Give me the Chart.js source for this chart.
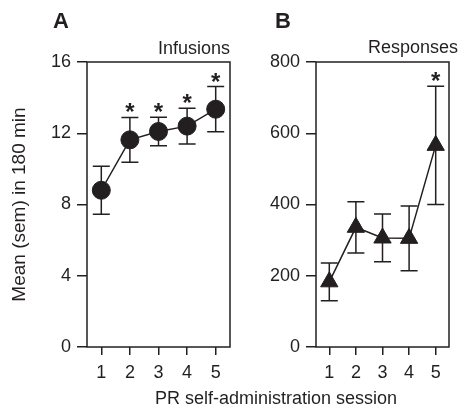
<!DOCTYPE html>
<html>
<head>
<meta charset="utf-8">
<script src="https://cdn.jsdelivr.net/npm/chart.js@4"></script>
<style>
  body { margin: 0; width: 460px; height: 413px; overflow: hidden; background: #fff; position: relative;
         font-family: "Liberation Sans", Arial, sans-serif; color: #231f20; }
  canvas { position: absolute; top: 0; }
  .lbl { position: absolute; white-space: nowrap; line-height: 1; font-size: 18px; }
  .panel { font-weight: bold; font-size: 22px; }
</style>
</head>
<body>
<canvas id="chartA" width="240" height="413" style="left:0"></canvas>
<canvas id="chartB" width="220" height="413" style="left:240px"></canvas>
<div class="lbl panel" style="left:53px;top:10px">A</div>
<div class="lbl panel" style="left:275px;top:10px">B</div>
<div class="lbl" style="right:230px;top:39px">Infusions</div>
<div class="lbl" style="right:2px;top:38px">Responses</div>
<div class="lbl" style="left:155px;top:389px">PR self-administration session</div>
<script>
const INK = "#231f20";

const sessions = ["1", "2", "3", "4", "5"];

const infusionMean = [8.8, 11.63, 12.1, 12.4, 13.35];
const infusionSem = [1.35, 1.26, 0.8, 1.0, 1.27];
const infusionStar = [false, true, true, true, true];
const infusionTicks = [0, 4, 8, 12, 16];

const responseMean = [183, 336, 306, 305, 566];
const responseSem = [53, 72, 67, 91, 166];
const responseStar = [false, false, false, false, true];
const responseTicks = [0, 200, 400, 600, 800];

Chart.defaults.font.family = '"Liberation Sans", Arial, sans-serif';
Chart.defaults.color = INK;

// frame round the plot area
const frame = {
  id: "frame",
  beforeDatasetsDraw(chart) {
    const { ctx, chartArea: a } = chart;
    ctx.save();
    ctx.strokeStyle = INK;
    ctx.lineWidth = 1.5;
    ctx.strokeRect(a.left, a.top, a.right - a.left, a.bottom - a.top);
    ctx.restore();
  }
};

// sem bars + significance stars
const errorBars = {
  id: "errorBars",
  afterDatasetsDraw(chart, args, opts) {
    const { ctx, scales: { x, y } } = chart;
    ctx.save();
    ctx.strokeStyle = INK;
    ctx.fillStyle = INK;
    ctx.lineWidth = 1.5;
    ctx.font = 'bold 24px "Liberation Sans", Arial, sans-serif';
    ctx.textAlign = "center";
    ctx.textBaseline = "alphabetic";
    opts.means.forEach((m, i) => {
      const px = x.getPixelForValue(i);
      const top = y.getPixelForValue(m + opts.sems[i]);
      const bot = y.getPixelForValue(m - opts.sems[i]);
      ctx.beginPath();
      ctx.moveTo(px, top); ctx.lineTo(px, bot);
      ctx.moveTo(px - 8.5, top); ctx.lineTo(px + 8.5, top);
      ctx.moveTo(px - 8.5, bot); ctx.lineTo(px + 8.5, bot);
      ctx.stroke();
      if (opts.stars[i]) ctx.fillText("*", px, top + 3);
    });
    ctx.restore();
  }
};

function makeChart(id, means, sems, stars, ticks, style, radius, yWidth, padRight, yTitle) {
  return new Chart(document.getElementById(id), {
    type: "line",
    data: {
      labels: sessions,
      datasets: [{
        data: means,
        borderColor: INK,
        borderWidth: 1.5,
        pointStyle: style,
        pointRadius: radius,
        pointBackgroundColor: INK,
        pointBorderColor: INK,
        pointBorderWidth: 1,
        tension: 0,
        clip: false
      }]
    },
    options: {
      responsive: false,
      animation: false,
      layout: { padding: { left: 0, top: 62, right: padRight, bottom: 0 } },
      plugins: {
        legend: { display: false },
        tooltip: { enabled: false },
        errorBars: { means, sems, stars }
      },
      scales: {
        x: {
          type: "category",
          offset: true,
          grid: { offset: false, drawOnChartArea: false, tickLength: 8, color: INK, lineWidth: 1.5 },
          border: { display: false },
          ticks: { color: INK, font: { size: 18 }, padding: 7 },
          afterFit: s => { s.height = 66; }
        },
        y: {
          min: ticks[0],
          max: ticks[ticks.length - 1],
          afterBuildTicks: s => { s.ticks = ticks.map(v => ({ value: v })); },
          grid: { drawOnChartArea: false, tickLength: 10, color: INK, lineWidth: 1.5 },
          border: { display: false },
          ticks: { color: INK, font: { size: 18 }, padding: 6 },
          title: {
            display: !!yTitle,
            text: yTitle || "",
            color: INK,
            font: { size: 19 },
            padding: { top: 8, bottom: 0 }
          },
          afterFit: s => { s.width = yWidth; }
        }
      }
    },
    plugins: [frame, errorBars]
  });
}

makeChart("chartA", infusionMean, infusionSem, infusionStar, infusionTicks, "circle", 9, 87, 8, "Mean (sem) in 180 min");
makeChart("chartB", responseMean, responseSem, responseStar, responseTicks, "triangle", 10, 76, 1, "");
</script>
</body>
</html>
